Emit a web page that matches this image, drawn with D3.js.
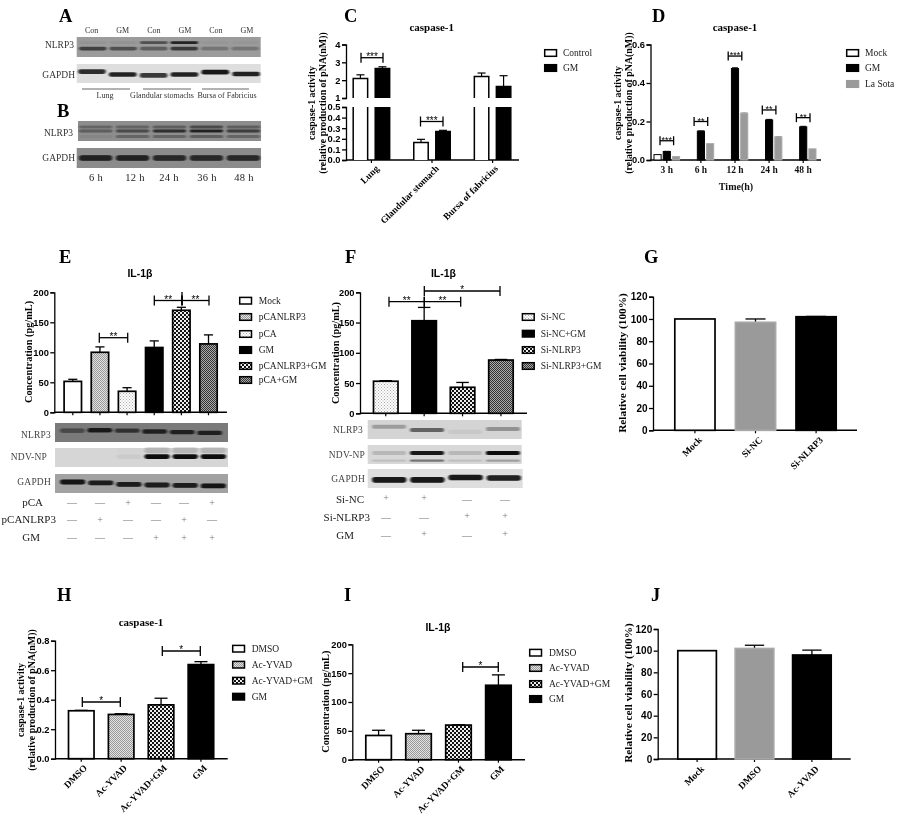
<!DOCTYPE html>
<html><head><meta charset="utf-8">
<script src="https://cdnjs.cloudflare.com/ajax/libs/d3/7.8.5/d3.min.js"></script>
<style>html,body{margin:0;padding:0;background:#fff}svg{display:block;filter:blur(0.35px)}</style>
</head><body><svg id="c" width="900" height="818"></svg>
<script>
// ---------- DATA ----------
const catsC=["Lung","Glandular stomach","Bursa of fabricius"];
const seriesC=["Control","GM"];
const controlC=[2.1,0.165,2.2], controlErrC=[2.3,0.195,2.4];
const gmC=[2.65,0.27,1.65], gmErrC=[2.75,0.28,2.25];

const catsD=["3 h","6 h","12 h","24 h","48 h"];
const seriesD=["Mock","GM","La Sota"];
const mockD=[0.028,0,0,0,0];
const gmD=[0.044,0.15,0.475,0.208,0.172];
const gmErrD=[0.045,0.151,0.479,0.211,0.175];
const laSotaD=[0.018,0.085,0.243,0.12,0.058];
const laSotaErrD=[0.018,0.085,0.245,0.122,0.058];
const bracketTopD=[0.1,0.2,0.54,0.26,0.22];
const starsD=["***","**","***","**","**"];

const catsE=["Mock","pCANLRP3","pCA","GM","pCANLRP3+GM","pCA+GM"];
const valsE=[51.5,100,35,108,170,114], errE=[55,109,41,119,175,129];
const catsF=["Si-NC","Si-NC+GM","Si-NLRP3","Si-NLRP3+GM"];
const valsF=[53,153,43,88], errF=[54,175,51,89];
const catsG=["Mock","Si-NC","Si-NLRP3"];
const valsG=[100,97,102], errG=[100,100,102.3];
const catsH=["DMSO","Ac-YVAD","Ac-YVAD+GM","GM"];
const valsH=[0.325,0.30,0.365,0.638], errH=[0.328,0.305,0.41,0.658];
const valsI=[42,45,60,129], errI=[51,51,60.5,147];
const catsJ=["Mock","DMSO","Ac-YVAD"];
const valsJ=[100,102,96], errJ=[100,105,100.5];

const rowsE=[["pCA","——+——+"],["pCANLRP3","—+——+—"],["GM","———+++"]];
const rowsF=[["Si-NC","++——"],["Si-NLRP3","——++"],["GM","—+—+"]];
const lanesA=["Con","GM","Con","GM","Con","GM"];
const tissuesA=["Lung","Glandular stomachs","Bursa of Fabricius"];
const timesB=["6 h","12 h","24 h","36 h","48 h"];

// band strengths per lane (0-1)
const aN1=[.05,.05,.6,.95,.03,.03], aN2=[.75,.6,.5,.8,.3,.3];
const aG=[.85,.9,.8,.9,.95,.9];
const bN1=[.35,.4,.45,.6,.45], bN2=[.4,.55,.75,.85,.65], bN3=[.05,.4,.4,.45,.35];
const bG=[.85,.85,.8,.8,.8];
const eN=[.5,.9,.7,.85,.85,.85];
const eP=[0,0,.05,1,1,1];
const eG=[.95,.9,.9,.9,.9,.95];
const fN=[.35,.7,.08,.4];
const fP1=[.15,.95,.15,1], fP2=[.15,.6,.15,.35];
const fG=[.95,.95,.95,.9];

// ---------- HELPERS ----------
const svg=d3.select("#c");
const SERIF="'Liberation Serif','Times New Roman',serif", SANS="'Liberation Sans',Arial,sans-serif";
const defs=svg.append("defs");
function pat(id,size,bg,fg,cells){
  const p=defs.append("pattern").attr("id",id).attr("width",size).attr("height",size).attr("patternUnits","userSpaceOnUse");
  p.append("rect").attr("width",size).attr("height",size).attr("fill",bg);
  cells.forEach(c=>p.append("rect").attr("x",c[0]).attr("y",c[1]).attr("width",c[2]).attr("height",c[2]).attr("fill",fg));
}
pat("pDots",3,"#fff","#aaa",[[0,0,1],[1.5,1.5,1]]);
pat("pFine",2,"#e2e2e2","#999",[[0,0,1],[1,1,1]]);
pat("pCheck",4,"#111","#eee",[[0,0,2],[2,2,2]]);
pat("pDark",2,"#aaa","#333",[[0,0,1],[1,1,1]]);
const FILL={white:"#fff",black:"#000",grey:"#9a9a9a",dots:"url(#pDots)",fine:"url(#pFine)",check:"url(#pCheck)",dark:"url(#pDark)"};
const bl=defs.append("filter").attr("id","bandBlur").attr("x","-20%").attr("y","-100%").attr("width","140%").attr("height","300%");
bl.append("feGaussianBlur").attr("stdDeviation","1 0.7");

function txt(x,y,s,o={}){
  const t=svg.append("text").attr("x",x).attr("y",y).text(s)
    .attr("font-family",o.f||SERIF).attr("font-size",o.s||10).attr("font-weight",o.b?"bold":"normal")
    .attr("text-anchor",o.a||"start").attr("fill",o.c||"#111").attr("dominant-baseline",o.db||"central");
  if(o.ls)t.attr("letter-spacing",o.ls);
  if(o.r!==undefined)t.attr("transform",`rotate(${o.r} ${x} ${y})`);
  return t;
}
function letter(s,x,y){txt(x,y,s,{s:18.5,b:1,db:"alphabetic",c:"#000"});}
function line(x1,y1,x2,y2,w=1.3,c="#000"){svg.append("line").attr("x1",x1).attr("y1",y1).attr("x2",x2).attr("y2",y2).attr("stroke",c).attr("stroke-width",w);}
function yAxis(scale,x,vals,fmt){
  const g=svg.append("g").attr("transform",`translate(${x},0)`)
    .call(d3.axisLeft(scale).tickValues(vals).tickFormat(fmt).tickSizeOuter(0).tickSize(4).tickPadding(1.5));
  g.selectAll("path,line").attr("stroke","#000").attr("stroke-width",1.3);
  g.selectAll("text").attr("font-family",SANS).attr("font-weight","bold").attr("font-size",9.3).attr("fill","#000");
  return g;
}
function xBase(x0,x1,y,ticks){
  line(x0,y,x1,y,1.4);
  ticks.forEach(t=>line(t,y,t,y+3,1.2));
}
function catLabels(cats,xs,y,s=9.5){
  cats.forEach((c,i)=>txt(xs[i]+3,y,c,{b:1,s,a:"end",r:-45,db:"middle",c:"#000"}));
}
function yLabel(x,y,lines,s=9.9,gap=11.3){
  lines.forEach((l,i)=>txt(x+i*gap,y,l,{b:1,s,a:"middle",r:-90,c:"#000"}));
}
function legend(x,tx,ys,names,fills,s=9.5){
  names.forEach((n,i)=>{
    svg.append("rect").attr("x",x+.7).attr("y",ys[i]-3.3).attr("width",11.8).attr("height",6.6)
      .attr("fill",FILL[fills[i]]).attr("stroke",fills[i]==="grey"?"#9a9a9a":"#000").attr("stroke-width",1.5);
    txt(tx,ys[i]+.3,n,{s,c:"#222"});
  });
}
function bars(x,y,vals,errs,fills,y0){
  const cats=x.domain();
  const w=x.bandwidth();
  cats.forEach((c,i)=>{
    if(errs[i]>vals[i]){
      const cx=x(c)+w/2, capW=w*0.24;
      line(cx,y(vals[i]),cx,y(errs[i]),1.3);
      line(cx-capW,y(errs[i]),cx+capW,y(errs[i]),1.3);
    }
  });
  cats.forEach((c,i)=>{
    const isg=fills[i]==="grey";
    svg.append("rect").attr("x",x(c)+.8).attr("y",y(vals[i])).attr("width",w-1.6).attr("height",y0-y(vals[i]))
      .attr("fill",FILL[fills[i]]).attr("stroke",isg?"#a8a8a8":"#000").attr("stroke-width",1.7);
  });
}
function bracket(x1,x2,y,stars,h=5,ss=10){
  line(x1,y,x2,y,1.3); line(x1,y-h,x1,y+h,1.3); line(x2,y-h,x2,y+h,1.3);
  txt((x1+x2)/2,y+2,stars,{a:"middle",db:"alphabetic",s:ss,c:"#000",f:SANS});
}
function band(x0,x1,n){return d3.scaleBand().domain(d3.range(n)).range([x0,x1]).paddingInner(.1);}
function blot(x0,x1,y0,y1,bg,rows,n,lx0=x0+2,lx1=x1-2){
  svg.append("rect").attr("x",x0).attr("y",y0).attr("width",x1-x0).attr("height",y1-y0).attr("fill",bg);
  const lx=band(lx0,lx1,n);
  const yy=d3.scaleLinear().domain([0,1]).range([y0,y1]);
  const g=svg.append("g").attr("filter","url(#bandBlur)");
  rows.forEach(r=>{
    r.vals.forEach((v,i)=>{
      const off=(r.tilt||[])[i]||0;
      g.append("rect").attr("x",lx(i)).attr("y",yy(r.y+off)-r.h).attr("width",lx.bandwidth()).attr("height",2*r.h)
       .attr("rx",r.h).attr("fill",r.c||"#111").attr("opacity",v);
    });
  });
}

// ---------- PANEL A ----------
letter("A",59,21.5);
lanesA.forEach((l,i)=>txt(d3.scaleLinear().domain([0,5]).range([91.7,247])(i),30,l,{s:8,a:"middle",c:"#333"}));
txt(74,45,"NLRP3",{s:9.5,a:"end",c:"#333"});
blot(76.7,260.7,37,57,"#9b9b9b",[{y:.28,h:1.4,vals:aN1,c:"#1a1a1a"},{y:.58,h:1.8,vals:aN2,c:"#222"}],6,79,259);
txt(75,75,"GAPDH",{s:9.5,a:"end",c:"#333"});
blot(76.7,260.7,64,83,"#dedede",[{y:.5,h:2.3,vals:aG,tilt:[-.1,.05,.1,.05,-.07,.03]}],6,78,260);
[[82,130],[143,191],[202,249]].forEach(s=>line(s[0],89,s[1],89,.9,"#555"));
[105,162,227].forEach((x,i)=>txt(x,95.5,tissuesA[i],{s:8,a:"middle",c:"#333"}));

// ---------- PANEL B ----------
letter("B",57,117);
txt(73,133,"NLRP3",{s:9.5,a:"end",c:"#333"});
blot(78,261,121,141,"#8d8d8d",[{y:.3,h:1.4,vals:bN1,c:"#222"},{y:.5,h:1.4,vals:bN2,c:"#111"},{y:.78,h:1.5,vals:bN3,c:"#222"}],5,79,260);
txt(75,158,"GAPDH",{s:9.5,a:"end",c:"#333"});
blot(76.7,261,148,168,"#8b8b8b",[{y:.5,h:2.8,vals:bG,c:"#0a0a0a"}],5,79,260);
[96,135,169,207,244].forEach((x,i)=>txt(x,177,timesB[i],{s:10.5,a:"middle",c:"#222",ls:.3}));

// ---------- PANEL C ----------
letter("C",344,22);
txt(431.7,27,"caspase-1",{b:1,s:11,a:"middle",c:"#000"});
{
  const yLow=d3.scaleLinear().domain([0,.5]).range([160,107]);
  const yHigh=d3.scaleLinear().domain([1,4]).range([98,44.5]);
  const yv=v=>v>=1?yHigh(v):yLow(v);
  yAxis(yHigh,346,[1,2,3,4],d3.format("d"));
  yAxis(yLow,346,[0,.1,.2,.3,.4,.5],d3.format(".1f"));
  const gx=d3.scaleBand().domain(catsC).range([352.5,511.5]).paddingInner(.375);
  const sx=d3.scaleBand().domain(seriesC).range([0,gx.bandwidth()]).paddingInner(.28);
  xBase(346,519,160,catsC.map(c=>gx(c)+gx.bandwidth()/2));
  [[controlC,controlErrC,"#fff","Control"],[gmC,gmErrC,"#000","GM"]].forEach(([v,e,f,s])=>{
    catsC.forEach((c,i)=>{
      const x=gx(c)+sx(s), w=sx.bandwidth(), cx=x+w/2;
      line(cx,yv(v[i]),cx,yv(e[i]),1.2);
      line(cx-4,yv(e[i]),cx+4,yv(e[i]),1.2);
      const segs=v[i]>=1?[[yHigh(v[i]),98],[107,160]]:[[yLow(v[i]),160]];
      segs.forEach(sg=>svg.append("rect").attr("x",x+.7).attr("y",sg[0]).attr("width",w-1.4).attr("height",sg[1]-sg[0]).attr("fill",f).attr("stroke","none"));
      const pts=v[i]>=1
        ?[`M${x+.7},98V${yHigh(v[i])}H${x+w-.7}V98`,`M${x+.7},107V160M${x+w-.7},107V160`]
        :[`M${x+.7},160V${yLow(v[i])}H${x+w-.7}V160`];
      pts.forEach(d=>svg.append("path").attr("d",d).attr("fill","none").attr("stroke","#000").attr("stroke-width",1.5));
    });
  });
  bracket(361,383,57.7,"***");
  bracket(420.5,443,121.5,"***");
  catLabels(catsC,[375,435,494],167.5);
  yLabel(311,103,["caspase-1 activity","(relative production of pNA(nM))"]);
  legend(544,563,[53,68],seriesC,["white","black"]);
}

// ---------- PANEL D ----------
letter("D",652,22);
txt(735,27,"caspase-1",{b:1,s:11,a:"middle",c:"#000"});
{
  const y=d3.scaleLinear().domain([0,.6]).range([160,44.5]);
  yAxis(y,650.5,[0,.2,.4,.6],d3.format(".1f"));
  const gx=d3.scaleBand().domain(catsD).range([653.5,816.5]).paddingInner(.22);
  const sx=d3.scaleBand().domain(seriesD).range([0,gx.bandwidth()]).paddingInner(.12);
  const cxs=catsD.map(c=>gx(c)+gx.bandwidth()/2);
  xBase(650.5,821,160,cxs);
  [[mockD,mockD,"white","Mock"],[gmD,gmErrD,"black","GM"],[laSotaD,laSotaErrD,"grey","La Sota"]].forEach(([v,e,f,s])=>{
    catsD.forEach((c,i)=>{
      if(v[i]<=0)return;
      const x=gx(c)+sx(s), w=sx.bandwidth();
      if(e[i]>v[i]){line(x+w/2,y(v[i]),x+w/2,y(e[i]),1);line(x+w/2-3,y(e[i]),x+w/2+3,y(e[i]),1,f==="grey"?"#999":"#000");}
      svg.append("rect").attr("x",x+.5).attr("y",y(v[i])).attr("width",w-1).attr("height",160-y(v[i]))
        .attr("fill",FILL[f]).attr("stroke",f==="grey"?"#aaa":"#000").attr("stroke-width",1);
    });
  });
  catsD.forEach((c,i)=>{
    bracket(cxs[i]-6.8,cxs[i]+6.8,y(bracketTopD[i]),starsD[i],4.5,9);
    txt(cxs[i],169.5,c,{b:1,s:9.5,a:"middle"});
  });
  txt(736,186,"Time(h)",{b:1,s:10,a:"middle"});
  yLabel(617,103,["caspase-1 activity","(relative production of pNA(nM))"]);
  legend(846,865,[53,68,84],seriesD,["white","black","grey"]);
}

// ---------- PANEL E ----------
letter("E",59,263);
txt(140,272.5,"IL-1β",{b:1,s:10.5,a:"middle",f:SANS,c:"#000"});
{
  const y=d3.scaleLinear().domain([0,200]).range([412.3,292.3]);
  yAxis(y,54.3,[0,50,100,150,200],d3.format("d"));
  const x=d3.scaleBand().domain(catsE).range([63.3,218]).paddingInner(.3);
  const cxs=catsE.map(c=>x(c)+x.bandwidth()/2);
  xBase(54.3,227,412.3,cxs);
  const f=["white","fine","dots","black","check","dark"];
  bars(x,y,valsE,errE,f,412.3);
  bracket(99.3,127.7,337.7,"**");
  bracket(154.3,182,300.5,"**");
  bracket(182,209,300.5,"**");
  line(182,292,182,305,1.3);
  yLabel(28.5,352,["Concentration (pg/mL)"],10.3);
  legend(239,258.7,[300.7,317,334,350,366,380],catsE,f);
  txt(51,435,"NLRP3",{s:9.5,a:"end",c:"#444",ls:.2});
  blot(55,228,423,442,"#7a7a7a",[{y:.5,h:2.2,vals:eN,c:"#111",tilt:[-.1,-.12,-.1,-.05,-.02,.02]}],6,60,222);
  txt(47,457,"NDV-NP",{s:9.5,a:"end",c:"#444",ls:.2});
  blot(55,228,448,467,"#d6d6d6",[{y:.45,h:2.4,vals:eP,c:"#0a0a0a"},{y:.12,h:3,vals:eP.map(v=>v*.2),c:"#333"}],6,60,226);
  txt(51,482,"GAPDH",{s:9.5,a:"end",c:"#444",ls:.2});
  blot(55,228,474,493,"#a2a2a2",[{y:.5,h:2.4,vals:eG,c:"#0a0a0a",tilt:[-.08,-.03,.05,.08,.1,.13]}],6,60,226);
  const sx=d3.scaleLinear().domain([0,5]).range([72,212]);
  const ry=[502,519,537], rr=[43,56,40];
  rowsE.forEach((r,j)=>{
    txt(rr[j],ry[j],r[0],{s:11,a:"end",c:"#222"});
    Array.from(r[1]).forEach((s,i)=>txt(sx(i),ry[j],s,{s:10,a:"middle",c:"#777"}));
  });
}

// ---------- PANEL F ----------
letter("F",345,263);
txt(443.5,272.5,"IL-1β",{b:1,s:10.5,a:"middle",f:SANS,c:"#000"});
{
  const y=d3.scaleLinear().domain([0,200]).range([413.3,292.3]);
  yAxis(y,360,[0,50,100,150,200],d3.format("d"));
  const x=d3.scaleBand().domain(catsF).range([372.7,514]).paddingInner(.32);
  const cxs=catsF.map(c=>x(c)+x.bandwidth()/2);
  xBase(360,527,413.3,cxs);
  const f=["dots","black","check","dark"];
  bars(x,y,valsF,errF,f,413.3);
  bracket(389,424.3,301.7,"**");
  bracket(424.3,460.7,301.7,"**");
  bracket(424.3,500,291,"*");
  yLabel(335,353,["Concentration (pg/mL)"],10.3);
  legend(521.7,540.7,[317,333.7,350,366],catsF,f);
  txt(363,430,"NLRP3",{s:9.5,a:"end",c:"#444",ls:.2});
  blot(367.7,521.7,420,439,"#d4d4d4",[{y:.42,h:2,vals:fN,c:"#333",tilt:[-.07,.1,.2,.05]}],4,372,520);
  txt(365,455,"NDV-NP",{s:9.5,a:"end",c:"#444",ls:.2});
  blot(367.7,521.7,445,464,"#d8d8d8",[{y:.42,h:2,vals:fP1,c:"#0a0a0a"},{y:.82,h:1.2,vals:fP2,c:"#333"}],4,372,520);
  txt(365,479,"GAPDH",{s:9.5,a:"end",c:"#444",ls:.2});
  blot(367.7,522.7,469,488,"#dedede",[{y:.55,h:2.8,vals:fG,c:"#0a0a0a",tilt:[.02,.02,-.1,-.08]}],4,372,521);
  const ry=[499,517,535], rr=[364,370,354], sx=[386,424,467,505];
  rowsF.forEach((r,j)=>{
    txt(rr[j],ry[j],r[0],{s:11,a:"end",c:"#222"});
    Array.from(r[1]).forEach((s,i)=>txt(sx[i],ry[j]-(s==="+"?2:0),s,{s:10,a:"middle",c:"#777"}));
  });
}

// ---------- PANEL G ----------
letter("G",644,263);
{
  const y=d3.scaleLinear().domain([0,120]).range([430.3,296.7]);
  yAxis(y,653,[0,20,40,60,80,100,120],d3.format("d")).selectAll("text").attr("font-size",10);
  const x=d3.scaleBand().domain(catsG).range([674,837]).paddingInner(.31);
  const cxs=catsG.map(c=>x(c)+x.bandwidth()/2);
  xBase(653,857,430.3,cxs);
  bars(x,y,valsG,errG,["white","grey","black"],430.3);
  catLabels(catsG,cxs.map(c=>c+3),439);
  yLabel(622,363,["Relative cell viability (100%)"],11.3);
}

// ---------- PANEL H ----------
letter("H",57,601);
txt(141,622,"caspase-1",{b:1,s:11,a:"middle",c:"#000"});
{
  const y=d3.scaleLinear().domain([0,.8]).range([758.7,640.7]);
  yAxis(y,55,[0,.2,.4,.6,.8],d3.format(".1f"));
  const x=d3.scaleBand().domain(catsH).range([67.7,214.5]).paddingInner(.32);
  const cxs=catsH.map(c=>x(c)+x.bandwidth()/2);
  xBase(55,227.7,758.7,cxs);
  const f=["white","fine","check","black"];
  bars(x,y,valsH,errH,f,758.7);
  bracket(82.3,120.3,702,"*");
  bracket(162.3,200.3,651,"*");
  catLabels(catsH,cxs.map(c=>c+2),767,9.5);
  yLabel(20,700,["caspase-1 activity","(relative production of pNA(nM))"]);
  legend(232,251.7,[648.7,664.7,680.7,696.7],catsH,f);
}

// ---------- PANEL I ----------
letter("I",344,601);
txt(438,627,"IL-1β",{b:1,s:10.5,a:"middle",f:SANS,c:"#000"});
{
  const y=d3.scaleLinear().domain([0,200]).range([759.7,644.3]);
  yAxis(y,352.3,[0,50,100,150,200],d3.format("d"));
  const x=d3.scaleBand().domain(catsH).range([365,512]).paddingInner(.32);
  const cxs=catsH.map(c=>x(c)+x.bandwidth()/2);
  xBase(352.3,525,759.7,cxs);
  const f=["white","fine","check","black"];
  bars(x,y,valsI,errI,f,759.7);
  bracket(462.7,498.3,667,"*");
  catLabels(catsH,cxs.map(c=>c+2),768,9.5);
  yLabel(326,701.7,["Concentration (pg/mL)"],10.3);
  legend(529,549,[652.7,668,684,699],catsH,f);
}

// ---------- PANEL J ----------
letter("J",651,601);
{
  const y=d3.scaleLinear().domain([0,120]).range([759,629]);
  yAxis(y,657.7,[0,20,40,60,80,100,120],d3.format("d")).selectAll("text").attr("font-size",10);
  const x=d3.scaleBand().domain(catsJ).range([677,832]).paddingInner(.3);
  const cxs=catsJ.map(c=>x(c)+x.bandwidth()/2);
  xBase(657.7,850.7,759,cxs);
  bars(x,y,valsJ,errJ,["white","grey","black"],759);
  catLabels(catsJ,cxs.map(c=>c+3),768);
  yLabel(628,693,["Relative cell viability (100%)"],11.3);
}
</script></body></html>
